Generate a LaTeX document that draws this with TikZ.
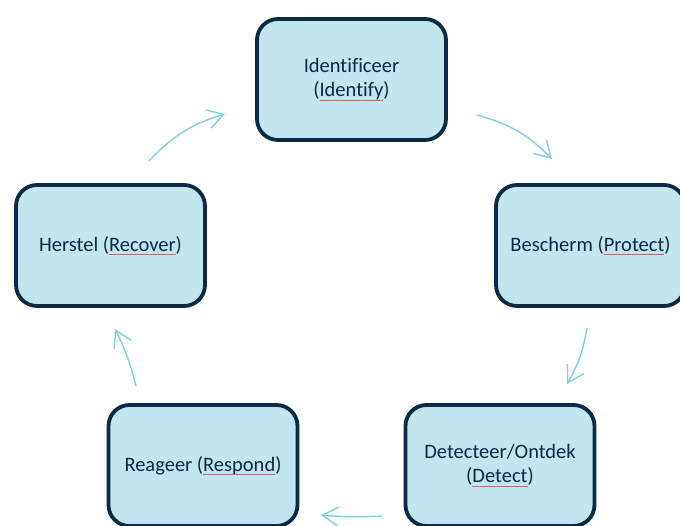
\documentclass[tikz,border=0pt]{standalone}
\usepackage{fontspec}
\setmainfont{Carlito}[Ligatures=NoCommon]
\usepackage{tikz}
\usetikzlibrary{arrows.meta}
\definecolor{boxfill}{HTML}{C1E6F0}
\definecolor{boxline}{HTML}{0B2A44}
\definecolor{txtnavy}{HTML}{0E2841}
\definecolor{cycblue}{HTML}{7FD0E4}
\definecolor{spellred}{HTML}{E8585A}
\newsavebox{\spellbox}
\newcommand{\spellchk}[1]{\sbox{\spellbox}{#1}\rlap{\usebox{\spellbox}}%
  {\color{spellred}\rule[-3.5pt]{\wd\spellbox}{0.6pt}}}
\tikzset{
  stagebox/.style={draw=boxline,fill=boxfill,line width=3.8pt,rounded corners=21pt,
    minimum width=189pt,minimum height=121pt,align=center,text=txtnavy,
    font=\fontsize{20.5}{24}\selectfont},
  cycarrow/.style={draw=cycblue,line width=1.4pt,
    -{Straight Barb[length=16pt,width=19pt]}}
}

\begin{document}
\begin{tikzpicture}[scale=1.000000,x=1pt,y=1pt]
\useasboundingbox (0.000000,0.000000) rectangle (680.000000,525.000000);
\clip (0.000000,0.000000) rectangle (680.000000,525.000000);
\fill[white] (0.000000,0.000000) rectangle (680.000000,525.000000);
% Drawing stages
\node[stagebox] (ide) at (351.500000,445.500000) {Identificeer\\(\spellchk{Identify})};
\node[stagebox] (pro) at (590.500000,279.500000) {Bescherm (\spellchk{Protect})};
\node[stagebox] (det) at (500.000000,59.500000) {Detecteer/Ontdek\\(\spellchk{Detect})};
\node[stagebox] (res) at (203.000000,59.500000) {Reageer (\spellchk{Respond})};
\node[stagebox] (rec) at (110.500000,279.500000) {Herstel (\spellchk{Recover})};
% Done with stages; arrow ends
\coordinate (recout) at (149.000000,364.000000);
\coordinate (idein) at (225.000000,411.000000);
\coordinate (ideout) at (477.000000,410.000000);
\coordinate (proin) at (552.000000,366.000000);
\coordinate (proout) at (587.000000,197.000000);
\coordinate (detin) at (567.000000,141.000000);
\coordinate (detout) at (382.000000,9.000000);
\coordinate (resin) at (321.000000,10.000000);
\coordinate (resout) at (136.000000,139.000000);
\coordinate (recin) at (115.000000,196.000000);
% Drawing cycle arrows
\draw[cycarrow] (recout) to[bend left=15] (idein);
\draw[cycarrow] (ideout) to[bend left=15] (proin);
\draw[cycarrow] (proout) to[bend left=10] (detin);
\draw[cycarrow] (detout) to[bend left=4] (resin);
\draw[cycarrow] (resout) to[bend right=6] (recin);
% Done with arrows
\end{tikzpicture}
\end{document}
